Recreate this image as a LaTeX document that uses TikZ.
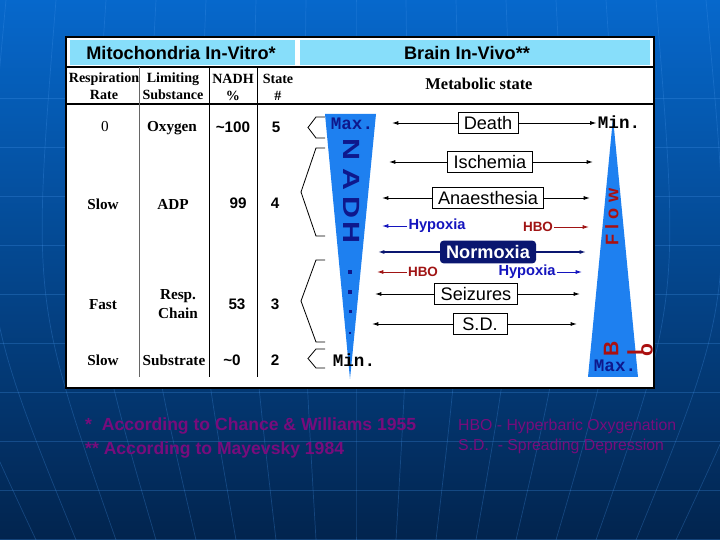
\documentclass[tikz,border=0pt]{standalone}
\usepackage{fontspec}
\setmainfont{Liberation Serif}
\setsansfont{Liberation Sans}
\setmonofont{Liberation Mono}
\usepackage{tikz}
\usetikzlibrary{positioning, arrows.meta, calc}
\definecolor{bgtop}{RGB}{6,104,204}
\definecolor{bgbot}{RGB}{2,36,78}
\definecolor{gridline}{RGB}{70,150,235}
\definecolor{headbg}{RGB}{135,222,250}
\definecolor{wedgeblue}{RGB}{30,128,240}
\definecolor{nadhblue}{RGB}{14,24,140}
\definecolor{normonavy}{RGB}{10,22,112}
\definecolor{hboRed}{RGB}{160,20,20}
\definecolor{hypoBlue}{RGB}{20,20,190}
\definecolor{flowred}{RGB}{170,16,16}
\definecolor{notepurple}{RGB}{120,12,124}

\begin{document}
\begin{tikzpicture}[
        x=0.03cm, y=-0.03cm,
        title/.style={font=\sffamily\bfseries\fontsize{15.5}{18}\selectfont},
        colhead/.style={font=\rmfamily\bfseries\fontsize{12}{14.5}\selectfont, align=center, inner sep=0pt},
        cell/.style={font=\rmfamily\bfseries\fontsize{13}{16}\selectfont, align=center, inner sep=0pt},
        num/.style={font=\sffamily\bfseries\fontsize{13}{15}\selectfont, inner sep=0pt},
        statebox/.style={draw, fill=white, line width=0.6pt, font=\sffamily\fontsize{15.5}{17}\selectfont, inner xsep=5pt, minimum height=0.64cm},
        tag/.style={font=\sffamily\bfseries\fontsize{12.5}{14}\selectfont, inner sep=1pt},
        endlabel/.style={font=\ttfamily\bfseries\fontsize{15}{16}\selectfont, inner sep=1pt},
        wedgeletter/.style={font=\sffamily\bfseries\fontsize{20}{22}\selectfont, text=nadhblue, rotate=-90, inner sep=0pt},
        flowletter/.style={font=\sffamily\bfseries\fontsize{15.5}{17}\selectfont, text=flowred, rotate=90, inner sep=0pt},
        note/.style={font=\sffamily\bfseries\fontsize{15}{17}\selectfont, text=notepurple, anchor=west, inner sep=0pt},
        abbrev/.style={font=\sffamily\fontsize{13.5}{15}\selectfont, text=notepurple, anchor=west, inner sep=0pt},
        arr/.style={-{Latex[length=5.5pt, width=3.5pt]}, line width=0.8pt}
    ]

    % background
    \useasboundingbox (0,0) rectangle (720,540);
    \fill[top color=bgtop, bottom color=bgbot] (0,0) rectangle (720,540);
    \begin{scope}
        \clip (0,0) rectangle (720,540);
        \foreach \y in {98,147,196,245,294,343,392,441,490,539}
            \draw[gridline, opacity=0.28, line width=0.6pt] (0,\y) -- (720,\y);
        \foreach \d in {-400,-350,...,400}
            \draw[gridline, opacity=0.28, line width=0.6pt] ({356+\d},0) .. controls ({356+1.08*\d},300) .. ({356+0.8*\d},540);
    \end{scope}

    % panel and table frame
    \draw[fill=white, line width=0.9pt] (66,37) rectangle (654,388);
    \fill[headbg] (70,40) rectangle (295,65);
    \fill[headbg] (300,40) rectangle (650,65);
    \draw[line width=0.9pt] (67,67) -- (653,67);
    \draw[line width=0.9pt] (67,104) -- (653,104);
    \draw[black!60, line width=0.6pt] (139,67) -- (139,377);
    \draw[line width=0.7pt] (209,67) -- (209,377);
    \draw[line width=0.7pt] (257,67) -- (257,377);

    \node[title] (mito) at (181,53) {Mitochondria In-Vitro*};
    \node[title] (brain) at (467,53) {Brain In-Vivo**};

    \node[colhead] (hrate) at (104,86) {Respiration\\Rate};
    \node[colhead] (hsubst) at (173,86) {Limiting\\Substance};
    \node[colhead] (hnadh) at (233,87) {NADH\\\%};
    \node[colhead] (hstate) at (278,87) {State\\\#};
    \node[cell, font=\rmfamily\bfseries\fontsize{14}{16}\selectfont] (metab) at (479,84) {Metabolic state};

    % state rows
    \node[cell, font=\rmfamily\fontsize{13}{16}\selectfont] (rate5) at (105,127) {0};
    \node[cell] (subst5) at (172,128) {Oxygen};
    \node[num] (nadh5) at (233,127) {\textasciitilde100};
    \node[num] (state5) at (276,127) {5};

    \node[cell] (rate4) at (103,204) {Slow};
    \node[cell] (subst4) at (173,204) {ADP};
    \node[num] (nadh4) at (238,203) {99};
    \node[num] (state4) at (275,203) {4};

    \node[cell] (rate3) at (103,305) {Fast};
    \node[cell] (subst3) at (178,304) {Resp.\\Chain};
    \node[num] (nadh3) at (237,304) {53};
    \node[num] (state3) at (275,304) {3};

    \node[cell] (rate2) at (103,360) {Slow};
    \node[cell] (subst2) at (174,360) {Substrate};
    \node[num] (nadh2) at (232,360) {\textasciitilde0};
    \node[num] (state2) at (275,360) {2};

    % brackets
    \foreach \ya/\yb/\xp in {117/138/308, 148/236/301, 260/342/301, 349/368/308}
        \draw[line width=0.7pt] (325,\ya) -- (316,\ya) -- (\xp,{(\ya+\yb)/2}) -- (316,\yb) -- (325,\yb);

    % NADH and flow wedges
    \fill[wedgeblue] (325,114) -- (376,114) -- (350,379) -- cycle;
    \fill[wedgeblue] (613,118) -- (638,377) -- (588,377) -- cycle;

    \node[endlabel, text=nadhblue] (nadhmax) at (352,124) {Max.};
    \node[endlabel] (nadhmin) at (354,360) {Min.};
    \node[endlabel] (flowmin) at (619,122) {Min.};
    \node[endlabel, text=nadhblue] (flowmax) at (615,366) {Max.};

    \foreach \l/\y in {N/150, A/180, D/208, H/233}
        \node[wedgeletter] (nadh\l) at (352,\y) {\scalebox{1.3}[1]{\l}};
    \foreach \y/\s in {272/4, 292/3.5, 312/3, 333/2.4}
        \fill[nadhblue] ({350-\s/2},{\y-\s/2}) rectangle ++(\s,\s);

    \node[flowletter] (flow) at (612,217) {F l o w};
    \node[flowletter, font=\sffamily\bfseries\fontsize{18}{20}\selectfont] (bloodB) at (611,349) {B};
    \node[flowletter, font=\sffamily\bfseries\fontsize{18}{20}\selectfont] (bloodL) at (635,353) {l};
    \node[flowletter, font=\sffamily\bfseries\fontsize{18}{20}\selectfont] (bloodO) at (647,350) {o};

    % metabolic states
    \node[statebox] (death) at (488,123) {Death};
    \node[statebox] (isch) at (490,162) {Ischemia};
    \node[statebox] (anaes) at (488,198) {Anaesthesia};
    \node[statebox] (seiz) at (476,294) {Seizures};
    \node[statebox, minimum width=1.62cm] (sd) at (480,324) {S.D.};
    \node[fill=normonavy, rounded corners=3pt, text=white, font=\sffamily\bfseries\fontsize{15.5}{17}\selectfont,
          minimum width=2.88cm, minimum height=0.68cm, inner sep=1pt] (normo) at (488,252) {Normoxia};

    \node[tag, text=hypoBlue] (hypoA) at (437,226) {Hypoxia};
    \node[tag, text=hboRed, font=\sffamily\bfseries\fontsize{11.5}{13}\selectfont] (hboA) at (538,227) {HBO};
    \node[tag, text=hboRed, font=\sffamily\bfseries\fontsize{11.5}{13}\selectfont] (hboB) at (423,272) {HBO};
    \node[tag, text=hypoBlue] (hypoB) at (527,272) {Hypoxia};

    \coordinate (deathL) at (392,123);
    \coordinate (ischL) at (389,162);
    \coordinate (ischR) at (593,162);
    \coordinate (anaesL) at (382,198);
    \coordinate (anaesR) at (590,198);
    \coordinate (hypoAL) at (382,226);
    \coordinate (hboAR) at (589,227);
    \coordinate (normoL) at (378,252);
    \coordinate (normoR) at (586,252);
    \coordinate (hboBL) at (377,272);
    \coordinate (hypoBR) at (582,272);
    \coordinate (seizL) at (375,294);
    \coordinate (seizR) at (580,294);
    \coordinate (sdL) at (372,324);
    \coordinate (sdR) at (577,324);

    \draw[arr] (death) -- (deathL);
    \draw[arr] (death) -- (death -| flowmin.west);
    \draw[arr] (isch) -- (ischL);
    \draw[arr] (isch) -- (ischR);
    \draw[arr] (anaes) -- (anaesL);
    \draw[arr] (anaes) -- (anaesR);
    \draw[arr, hypoBlue] (hypoA) -- (hypoAL);
    \draw[arr, hboRed] (hboA) -- (hboAR);
    \draw[arr, normonavy, line width=1.3pt] (normo) -- (normoL);
    \draw[arr, normonavy, line width=1.3pt] (normo) -- (normoR);
    \draw[arr, hboRed] (hboB) -- (hboBL);
    \draw[arr, hypoBlue] (hypoB) -- (hypoBR);
    \draw[arr] (seiz) -- (seizL);
    \draw[arr] (seiz) -- (seizR);
    \draw[arr] (sd) -- (sdL);
    \draw[arr] (sd) -- (sdR);

    % footnotes
    \node[note] (ref1) at (85,426) {*\ \ According to Chance \& Williams 1955};
    \node[note] (ref2) at (85,450) {** According to Mayevsky 1984};
    \node[abbrev] (abbr1) at (458,426) {HBO - Hyperbaric Oxygenation};
    \node[abbrev] (abbr2) at (458,446) {S.D.\ \ - Spreading Depression};

\end{tikzpicture}
\end{document}
